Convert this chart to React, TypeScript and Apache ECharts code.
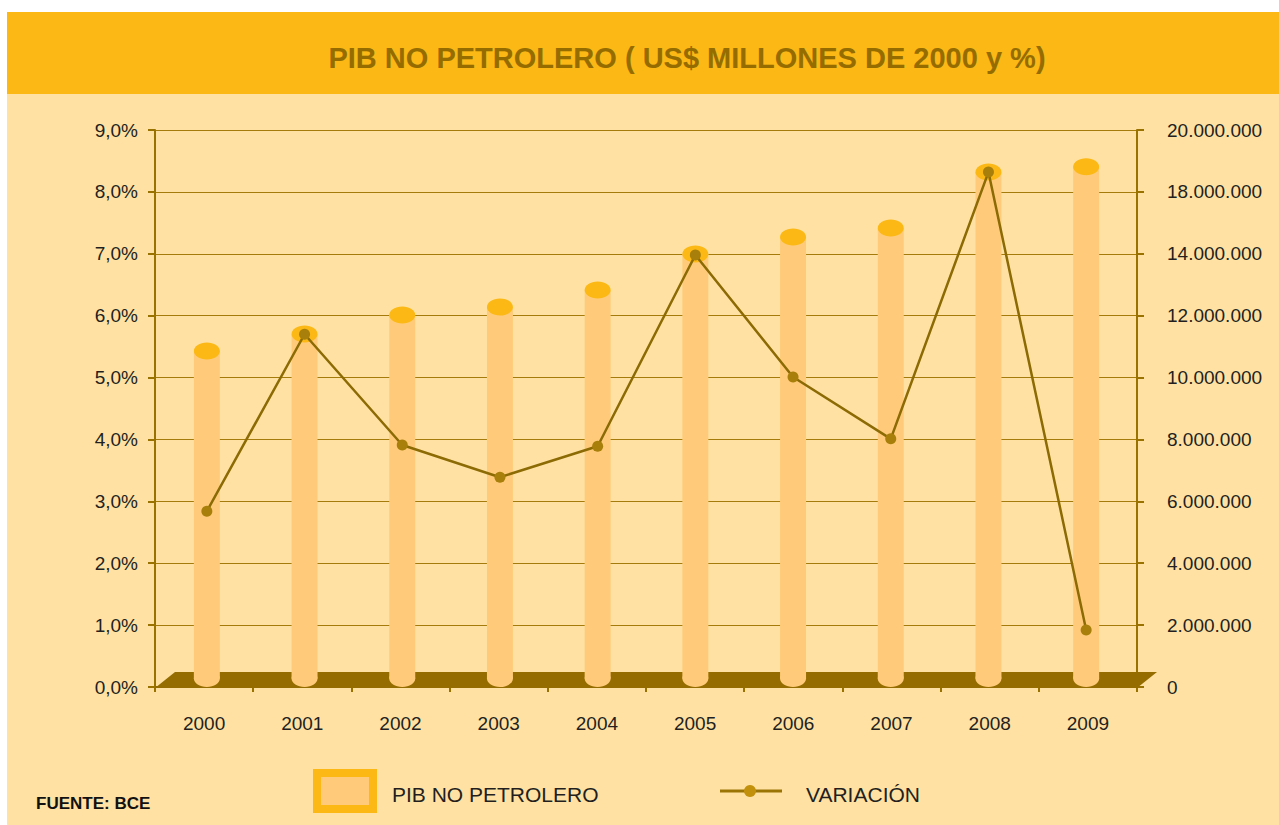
import React, { useEffect, useRef } from "react";
import * as echarts from "echarts";

const TITLE = "PIB NO PETROLERO ( US$ MILLONES DE 2000 y %)";
const SOURCE = "FUENTE: BCE";
const CATEGORIES = ["2000", "2001", "2002", "2003", "2004", "2005", "2006", "2007", "2008", "2009"];
// PIB no petrolero (bars, right axis)
const PIB_NO_PETROLERO = [10860000, 11410000, 12020000, 12280000, 12830000, 13990000, 14540000, 14830000, 16640000, 16810000];
// Variación % (line, left axis)
const VARIACION = [2.84, 5.7, 3.91, 3.39, 3.89, 6.98, 5.01, 4.01, 8.32, 0.92];
const RIGHT_TICK_LABELS = ["0", "2.000.000", "4.000.000", "6.000.000", "8.000.000", "10.000.000", "12.000.000", "14.000.000", "18.000.000", "20.000.000"];
const SERIES_NAMES = ["PIB NO PETROLERO", "VARIACIÓN"];

const BG = "#FFE2A3";
const HEADER = "#FCB814";
const BODY = "#FFCB7A";
const CAP = "#FCB814";
const DARK = "#946C00";
const AXIS = "#9A7200";
const GRIDLINE = "#A57C0C";
const LINE = "#8C6A04";
const DOT = "#A87F0A";
const TEXT = "#231F20";
const FONT = "'Liberation Sans', Arial, Helvetica, sans-serif";

export default function App() {
  const ref = useRef<HTMLDivElement>(null);
  useEffect(() => {
    if (!ref.current) return;
    const chart = echarts.init(ref.current, undefined, { renderer: "svg" });
    const grid0 = { left: 155, right: 142, top: 130, bottom: 138 };
    const grid1 = { left: 158, right: 144, top: 130, bottom: 138 };
    chart.setOption({
      animation: false,
      backgroundColor: "#ffffff",
      textStyle: { fontFamily: FONT },
      grid: [grid0, grid1],
      xAxis: [
        {
          type: "category",
          gridIndex: 0,
          data: CATEGORIES,
          boundaryGap: true,
          axisLine: { show: true, lineStyle: { color: DARK, width: 2 } },
          axisTick: { show: true, length: 5, lineStyle: { color: AXIS, width: 2 } },
          axisLabel: { color: TEXT, fontSize: 19, margin: 27, fontFamily: FONT },
          splitLine: { show: false },
        },
        {
          type: "category",
          gridIndex: 1,
          data: CATEGORIES,
          show: false,
        },
      ],
      yAxis: [
        {
          type: "value",
          gridIndex: 0,
          position: "left",
          min: 0,
          max: 9,
          interval: 1,
          axisLine: { show: true, lineStyle: { color: AXIS, width: 2 } },
          axisTick: { show: true, length: 7, lineStyle: { color: AXIS, width: 2 } },
          axisLabel: {
            color: TEXT,
            fontSize: 19,
            margin: 17,
            fontFamily: FONT,
            formatter: (v: number) => v.toFixed(1).replace(".", ",") + "%",
          },
          splitLine: { show: true, lineStyle: { color: GRIDLINE, width: 1 } },
        },
        {
          type: "value",
          gridIndex: 0,
          position: "right",
          min: 0,
          max: 18000000,
          interval: 2000000,
          axisLine: { show: true, lineStyle: { color: AXIS, width: 2 } },
          axisTick: { show: true, length: 7, lineStyle: { color: AXIS, width: 2 } },
          axisLabel: {
            color: TEXT,
            fontSize: 19,
            margin: 30,
            fontFamily: FONT,
            formatter: (v: number) => RIGHT_TICK_LABELS[Math.round(v / 2000000)] ?? "",
          },
          splitLine: { show: false },
        },
        { type: "value", gridIndex: 1, min: 0, max: 9, show: false, splitLine: { show: false } },
        { type: "value", gridIndex: 1, min: 0, max: 18000000, show: false, splitLine: { show: false } },
      ],
      graphic: [
        {
          type: "rect",
          z: -10,
          silent: true,
          shape: { x: 7, y: 12, width: 1300, height: 840, r: [0, 0, 0, 30] },
          style: { fill: BG },
        },
        {
          type: "rect",
          z: -9,
          silent: true,
          shape: { x: 7, y: 12, width: 1300, height: 82 },
          style: { fill: HEADER },
        },
        {
          type: "text",
          z: 5,
          x: 687,
          y: 58,
          style: {
            text: TITLE,
            fill: DARK,
            font: `bold 29px ${FONT}`,
            textAlign: "center",
            textVerticalAlign: "middle",
          },
        },
        {
          type: "polygon",
          z: 1,
          silent: true,
          shape: { points: [[155, 688], [175, 672], [1157, 672], [1137, 688]] },
          style: { fill: DARK },
        },
        {
          type: "rect",
          z: 5,
          shape: { x: 317, y: 773, width: 56, height: 36 },
          style: { fill: BODY, stroke: CAP, lineWidth: 8 },
        },
        {
          type: "text",
          z: 5,
          x: 392,
          y: 794,
          style: {
            text: SERIES_NAMES[0],
            fill: TEXT,
            font: `21px ${FONT}`,
            textVerticalAlign: "middle",
          },
        },
        {
          type: "line",
          z: 5,
          shape: { x1: 720, y1: 791, x2: 782, y2: 791 },
          style: { stroke: "#9B7406", lineWidth: 3 },
        },
        {
          type: "circle",
          z: 6,
          shape: { cx: 750, cy: 791, r: 6 },
          style: { fill: "#C3900C" },
        },
        {
          type: "text",
          z: 5,
          x: 806,
          y: 794,
          style: {
            text: SERIES_NAMES[1],
            fill: TEXT,
            font: `21px ${FONT}`,
            textVerticalAlign: "middle",
          },
        },
        {
          type: "text",
          z: 5,
          x: 36,
          y: 803,
          style: {
            text: SOURCE,
            fill: "#111111",
            font: `bold 17px ${FONT}`,
            textVerticalAlign: "middle",
          },
        },
      ],
      series: [
        {
          name: SERIES_NAMES[0],
          type: "custom",
          xAxisIndex: 1,
          yAxisIndex: 3,
          z: 2,
          data: PIB_NO_PETROLERO.map((v, i) => [i, v]),
          encode: { x: 0, y: 1 },
          renderItem: (params: any, api: any) => {
            const top = api.coord([api.value(0), api.value(1)]);
            const base = api.coord([api.value(0), 0]);
            const band = api.size([1, 0])[0];
            const rx = band * 0.133;
            const ry = 8.5;
            return {
              type: "group",
              children: [
                {
                  type: "rect",
                  shape: { x: top[0] - rx, y: top[1], width: rx * 2, height: base[1] - ry - top[1] },
                  style: { fill: BODY },
                },
                {
                  type: "ellipse",
                  shape: { cx: base[0], cy: base[1] - ry, rx, ry },
                  style: { fill: BODY },
                },
                {
                  type: "ellipse",
                  shape: { cx: top[0], cy: top[1], rx, ry },
                  style: { fill: CAP },
                },
              ],
            };
          },
        },
        {
          name: SERIES_NAMES[1],
          type: "line",
          xAxisIndex: 1,
          yAxisIndex: 2,
          z: 3,
          data: VARIACION,
          symbol: "circle",
          symbolSize: 11,
          itemStyle: { color: DOT },
          lineStyle: { color: LINE, width: 2.5 },
        },
      ],
    });
    return () => chart.dispose();
  }, []);
  return <div ref={ref} style={{ position: "fixed", left: 0, top: 0, width: 1279, height: 825 }} />;
}
